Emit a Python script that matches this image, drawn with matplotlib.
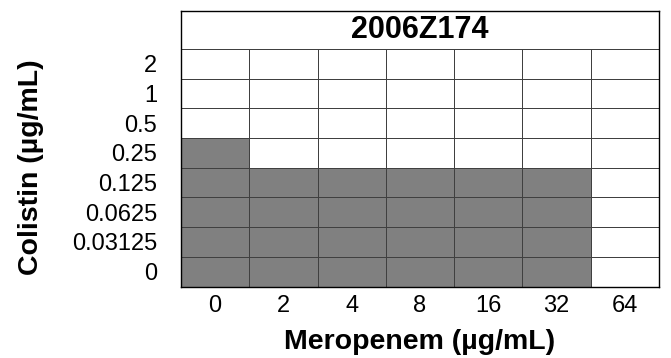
import matplotlib.pyplot as plt
import numpy as np
from matplotlib.colors import ListedColormap

plt.rcParams['font.family'] = ['Liberation Sans', 'DejaVu Sans']

meropenem = ['0', '2', '4', '8', '16', '32', '64']
colistin = ['0', '0.03125', '0.0625', '0.125', '0.25', '0.5', '1', '2']
strain = '2006Z174'

# 1 = growth, 0 = no growth; rows follow the colistin list (bottom to top)
growth = np.array([
    [1, 1, 1, 1, 1, 1, 0],
    [1, 1, 1, 1, 1, 1, 0],
    [1, 1, 1, 1, 1, 1, 0],
    [1, 1, 1, 1, 1, 1, 0],
    [1, 0, 0, 0, 0, 0, 0],
    [0, 0, 0, 0, 0, 0, 0],
    [0, 0, 0, 0, 0, 0, 0],
    [0, 0, 0, 0, 0, 0, 0],
])

ncol = len(meropenem)
nrow = len(colistin)
header = 1.28  # height of the title band, in row units

fig = plt.figure(figsize=(6.71, 3.58), dpi=100)
ax = fig.add_axes([0.2697, 0.1997, 0.7124, 0.7694])

cmap = ListedColormap(['white', '#808080'])
ax.pcolormesh(np.arange(ncol + 1), np.arange(nrow + 1), growth,
              cmap=cmap, vmin=0, vmax=1, edgecolor='#404040', linewidth=0.6)

ax.set_xlim(0, ncol)
ax.set_ylim(0, nrow + header)
ax.axhline(nrow, color='#404040', linewidth=0.6)
ax.text(ncol / 2, nrow + header / 2, strain, ha='center', va='center',
        fontsize=22, fontweight='bold')

ax.set_xticks(np.arange(ncol) + 0.5)
ax.set_xticklabels(meropenem, fontsize=17)
ax.set_yticks(np.arange(nrow) + 0.5)
ax.set_yticklabels(colistin, fontsize=17)
ax.tick_params(length=0)
ax.tick_params(axis='x', pad=6)
ax.tick_params(axis='y', pad=17)

fig.text(0.626, 0.0447, 'Meropenem (µg/mL)', ha='center', va='center',
         fontsize=20.5, fontweight='bold')
fig.text(0.0462, 0.532, 'Colistin (µg/mL)', ha='center', va='center',
         rotation=90, fontsize=20.5, fontweight='bold')

for s in ax.spines.values():
    s.set_color('black')
    s.set_linewidth(1)

fig.savefig('out.png', dpi=100)
